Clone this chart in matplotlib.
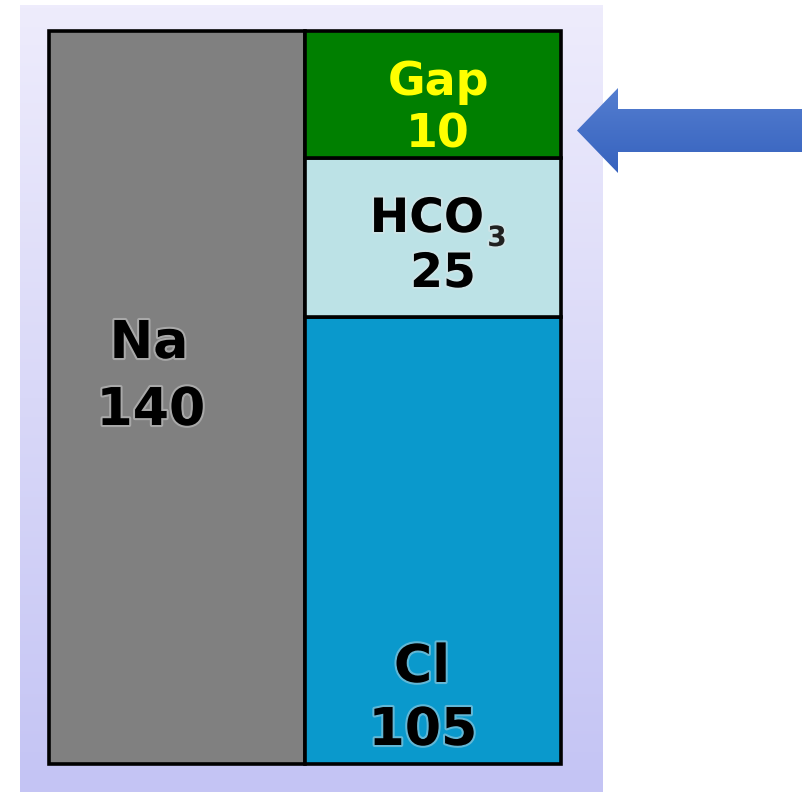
import matplotlib.pyplot as plt
import numpy as np
from matplotlib import patheffects as pe
from matplotlib.patches import FancyArrow

plt.rcParams['font.family'] = ['DejaVu Sans']

# anion gap: cation column vs anion column (mEq/L)
cation = "Na"
cation_value = 140
anions = ["Cl", "HCO", "Gap"]
anion_values = [105, 25, 10]
# block heights as drawn in the picture (the drawing is not to scale)
anion_heights = [85.4, 30.4, 24.2]

W, H = 803, 792
fig = plt.figure(figsize=(W / 100, H / 100), dpi=100)

# overlay in pixel coords for the background panel and the arrow
ov = fig.add_axes([0, 0, 1, 1])
ov.set_xlim(0, W)
ov.set_ylim(H, 0)
ov.axis('off')

# lavender gradient panel
top = np.array([238, 236, 252]) / 255
bot = np.array([196, 196, 244]) / 255
t = np.linspace(0, 1, 256)[:, None, None]
grad = np.repeat(top * (1 - t) + bot * t, 4, axis=1)
ov.imshow(grad, extent=(20, 603, 792, 5), aspect='auto', zorder=0)

# blue arrow pointing at the gap, light at the top, darker below
arrow = FancyArrow(803, 130.5, -226, 0, width=43, head_width=85,
                   head_length=41, length_includes_head=True,
                   facecolor='none', lw=0)
ov.add_patch(arrow)
a_top = np.array([84, 126, 208]) / 255
a_bot = np.array([54, 98, 190]) / 255
ag = np.repeat(a_top * (1 - t) + a_bot * t, 4, axis=1)
im = ov.imshow(ag, extent=(577, 803, 173, 88), aspect='auto', zorder=1)
im.set_clip_path(arrow)
ov.set_xlim(0, W)
ov.set_ylim(H, 0)

# bars axes
ax = fig.add_axes([49 / W, 1 - 764 / H, (561 - 49) / W, (764 - 31) / H])
ax.set_xlim(-0.5, 1.5)
ax.set_ylim(0, sum(anion_heights))
ax.axis('off')

edge = dict(edgecolor='black', linewidth=2.6, clip_on=False)
ax.bar(0, sum(anion_heights), width=1, color='#808080', **edge)

colors = ['#0A99CC', '#BCE2E6', '#007F00']
bottom = 0
for h, c in zip(anion_heights, colors):
    ax.bar(1, h, width=1, bottom=bottom, color=c, **edge)
    bottom += h


def px(x, y):
    # pixel position -> data coords of the bar axes
    return (x - 49) / 512 * 2 - 0.5, (764 - y) / 733 * sum(anion_heights)


halo = [pe.withStroke(linewidth=3, foreground='#E6E6E6', alpha=0.4)]
big = dict(fontsize=37.5, fontweight='bold', ha='center', va='baseline',
           path_effects=halo)

ax.text(*px(149, 358), cation, **big)
ax.text(*px(151, 425), str(cation_value), **big)

ax.text(*px(422, 682), anions[0], **big)
ax.text(*px(423, 745), str(anion_values[0]), **big)

mid = dict(fontsize=34, fontweight='bold', ha='center', va='baseline',
           path_effects=halo)
ax.text(*px(427, 232), anions[1], **mid)
ax.text(*px(497, 246), "3", fontsize=20, fontweight='bold', ha='center',
        va='baseline', color='#202020', path_effects=halo)
ax.text(*px(443, 287), str(anion_values[1]), **mid)

gap = dict(fontsize=33, fontweight='bold', ha='center', va='baseline',
           color='#FFFF00')
ax.text(*px(439, 95), anions[2], **gap)
ax.text(*px(438, 147), str(anion_values[2]), **gap)

fig.savefig('out.png', dpi=100)
